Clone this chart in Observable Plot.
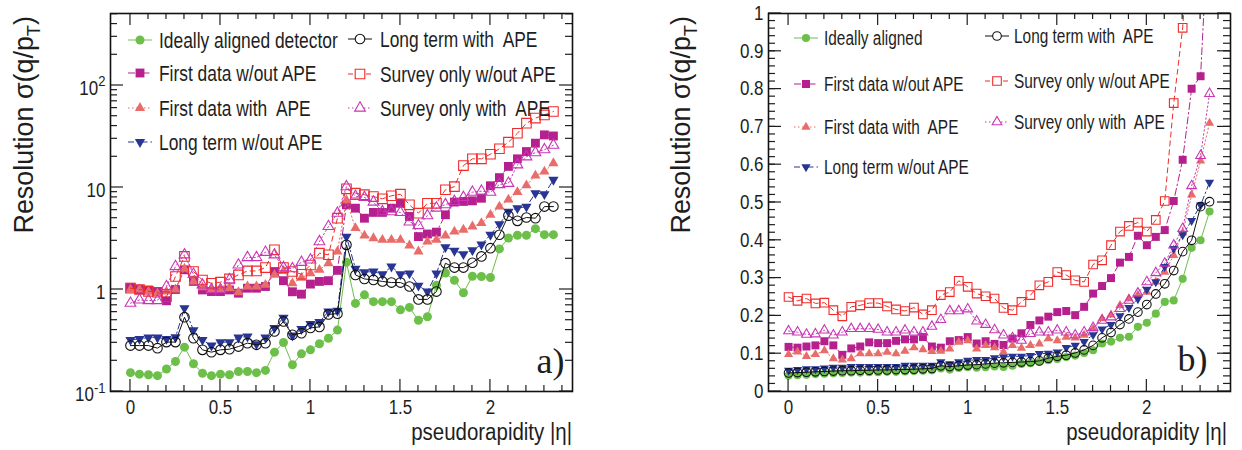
<!DOCTYPE html>
<html><head><meta charset="utf-8">
<script src="https://cdn.jsdelivr.net/npm/d3@7"></script>
<script src="https://cdn.jsdelivr.net/npm/@observablehq/plot@0.6"></script>
<style>
html,body{margin:0;padding:0;background:#fff;}
#wrap{position:relative;width:1242px;height:450px;overflow:hidden;background:#fff;}
#wrap svg{position:absolute;top:0;}
</style></head><body><div id="wrap"></div>
<script>
// ---------- data ----------
const eta = [0,0.05,0.1,0.15,0.2,0.25,0.3,0.35,0.4,0.45,0.5,0.55,0.6,0.65,0.7,0.75,0.8,0.85,0.9,0.95,1,1.05,1.1,1.15,1.2,1.25,1.3,1.35,1.4,1.45,1.5,1.55,1.6,1.65,1.7,1.75,1.8,1.85,1.9,1.95,2,2.05,2.1,2.15,2.2,2.25,2.3,2.35];

// panel a) (log scale)
const aIdeal    = [0.153,0.148,0.146,0.143,0.166,0.197,0.272,0.187,0.151,0.143,0.148,0.146,0.157,0.157,0.153,0.161,0.243,0.302,0.183,0.234,0.256,0.294,0.333,0.40, 1.85,0.73,0.887,0.76,0.76,0.76,0.632,0.667,0.5,0.54,1.1,1.45,1.23,0.93,1.35,1.34,1.31,2.5,3.2,3.4,3.4,3.95,3.45,3.45];
const aFirstNo  = [1.05,1.0,0.99,0.955,0.775,1.0,1.56,1.2,0.99,0.955,0.955,0.99,0.92,1.03,1.03,1.07,1.5,1.22,0.95,0.9,1.13,1.2,1.22,1.54, 6.76,6.27,5.0,5.7,5.7,6.27,7.0,5.2,3.3,3.5,3.65,5.4,7.2,7.3,7.4,7.85,10.4,12.5,16.1,19.1,22.5,27.2,32.8,32];
const aFirstApe = [1.0,1.0,0.955,0.92,0.955,1.0,1.6,1.2,1.05,1.0,1.0,1.03,0.94,1.07,1.07,1.11,1.39,1.52,1.15,1.3,1.44,1.56,1.81,2.36, 7.5,4.0,3.38,3.18,3.07,3.07,3.07,2.7,2.36,2.95,3.07,3.38,3.7,3.85,4.15,4.47,5.4,6.5,7.6,9.0,10.5,13.1,14.3,17.3];
const aLongNo   = [0.321,0.328,0.338,0.338,0.328,0.34,0.656,0.40,0.321,0.282,0.305,0.305,0.338,0.346,0.291,0.338,0.42,0.53,0.354,0.41,0.46,0.48,0.61,0.62, 3.3,1.6,1.48,1.5,1.41,1.68,1.41,1.44,1.09,0.955,1.44,2.6,2.4,2.22,2.43,2.76,3.44,4.37,5.8,6.27,6.5,8.8,8.6,11.9];
const aLongApe  = [0.282,0.282,0.282,0.266,0.305,0.305,0.535,0.333,0.256,0.243,0.256,0.26,0.276,0.298,0.287,0.298,0.388,0.486,0.36,0.373,0.42,0.43,0.57,0.58, 2.74,1.39,1.27,1.24,1.2,1.17,1.17,1.07,0.80,0.80,0.955,1.81,1.64,1.64,1.83,2.11,2.54,3.44,5.3,4.71,5.08,5.0,6.5,6.5];
const aSurveyNo = [1.03,1.0,0.96,0.94,0.85,1.34,2.11,1.5,1.24,1.15,1.18,1.27,1.39,1.52,1.52,1.64,2.45,1.64,1.5,1.41,1.74,2.27,2.19,5.0, 9.7,8.8,8.5,8.15,7.75,8.3,8.6,6.76,5.6,7.0,7.0,9.5,10.2,16.4,19.1,19.1,21.2,24,27.8,34,42.7,47.9,51.5,55.6];
const aSurveyApe= [0.734,0.79,0.78,0.78,1.07,1.68,2.19,1.41,1.11,1.0,1.0,1.25,1.74,2.06,2.06,2.32,2.19,1.64,1.6,1.85,1.95,2.95,4.15,5.6, 10.2,8.2,8.0,7.2,5.8,5.8,5.7,4.6,4.24,5.3,6.3,6.8,7.3,8.0,9.0,9.2,9.0,10.7,11,16.7,20,22,23.5,26];

// panel b) (linear scale)
const bIdeal    = [0.042,0.043,0.044,0.046,0.047,0.048,0.049,0.05,0.05,0.051,0.051,0.052,0.052,0.053,0.054,0.055,0.056,0.061,0.058,0.062,0.064,0.063,0.064,0.066, 0.065,0.068,0.073,0.075,0.078,0.083,0.086,0.091,0.095,0.102,0.109,0.127,0.132,0.142,0.145,0.171,0.182,0.206,0.237,0.241,0.298,0.38,0.40,0.476];
const bFirstNo  = [0.118,0.116,0.119,0.122,0.133,0.122,0.097,0.114,0.119,0.13,0.128,0.128,0.134,0.138,0.138,0.144,0.119,0.116,0.133,0.136,0.144,0.127,0.133,0.126, 0.123,0.14,0.154,0.176,0.188,0.198,0.21,0.213,0.202,0.224,0.259,0.279,0.3,0.341,0.356,0.412,0.387,0.409,0.427,0.504,0.613,0.801,0.834,1.3];
const bFirstApe = [0.098,0.105,0.093,0.098,0.108,0.087,0.084,0.087,0.1,0.1,0.1,0.104,0.1,0.107,0.116,0.111,0.106,0.107,0.113,0.131,0.135,0.113,0.122,0.116, 0.104,0.122,0.115,0.122,0.126,0.14,0.135,0.144,0.142,0.149,0.166,0.193,0.203,0.228,0.246,0.255,0.263,0.29,0.316,0.36,0.42,0.52,0.61,0.71];
const bLongNo   = [0.056,0.058,0.06,0.06,0.062,0.064,0.064,0.066,0.066,0.066,0.066,0.066,0.066,0.069,0.069,0.069,0.069,0.078,0.073,0.078,0.082,0.084,0.084,0.089, 0.091,0.093,0.093,0.095,0.1,0.101,0.104,0.116,0.122,0.132,0.15,0.165,0.177,0.2,0.222,0.245,0.27,0.29,0.33,0.378,0.414,0.452,0.493,0.553];
const bLongApe  = [0.049,0.05,0.051,0.052,0.053,0.054,0.055,0.055,0.056,0.056,0.057,0.057,0.058,0.058,0.059,0.06,0.061,0.068,0.066,0.068,0.07,0.071,0.073,0.075, 0.076,0.077,0.078,0.079,0.081,0.088,0.093,0.096,0.102,0.11,0.122,0.142,0.156,0.177,0.192,0.21,0.23,0.258,0.285,0.32,0.37,0.40,0.489,0.502];
const bSurveyNo = [0.25,0.24,0.246,0.233,0.235,0.215,0.199,0.224,0.228,0.234,0.234,0.225,0.217,0.213,0.222,0.204,0.215,0.255,0.263,0.293,0.277,0.259,0.252,0.246, 0.221,0.215,0.237,0.255,0.281,0.29,0.316,0.308,0.294,0.29,0.336,0.347,0.387,0.423,0.438,0.447,0.423,0.454,0.504,0.763,0.962,1.3,1.6,1.9];
const bSurveyApe= [0.16,0.157,0.151,0.152,0.162,0.149,0.157,0.166,0.166,0.166,0.164,0.157,0.157,0.162,0.157,0.157,0.172,0.19,0.213,0.213,0.218,0.186,0.177,0.163, 0.149,0.142,0.135,0.153,0.157,0.157,0.162,0.157,0.149,0.157,0.169,0.188,0.197,0.219,0.241,0.26,0.29,0.314,0.339,0.387,0.431,0.544,0.624,0.788];

const aLabels = ["Ideally aligned detector","First data w/out APE","First data with\u00a0 APE","Long term w/out APE","Long term with\u00a0 APE","Survey only w/out APE","Survey only with\u00a0 APE"];
const bLabels = ["Ideally aligned","First data w/out APE","First data with\u00a0 APE","Long term w/out APE","Long term with\u00a0 APE","Survey only w/out APE","Survey only with\u00a0 APE"];

const xMajor = [0,0.5,1,1.5,2];
const xMinor = [0.1,0.2,0.3,0.4,0.6,0.7,0.8,0.9,1.1,1.2,1.3,1.4,1.6,1.7,1.8,1.9,2.1,2.2,2.3,2.4];
const xTickText = ["0","0.5","1","1.5","2"];
const aYMajor = [0.1,1,10,100];
const aYMinor = [0.2,0.3,0.4,0.5,0.6,0.7,0.8,0.9,2,3,4,5,6,7,8,9,20,30,40,50,60,70,80,90,200,300,400,500];
const aYTickBase = ["10","1","10","10"];
const aYTickExp  = ["-1","","","2"];
const bYMajor = [0,0.1,0.2,0.3,0.4,0.5,0.6,0.7,0.8,0.9,1];
const bYMinor = d3.range(1, 50).map(d => d / 50);
const bYTickBase = ["0","0.1","0.2","0.3","0.4","0.5","0.6","0.7","0.8","0.9","1"];
const bYTickExp  = ["","","","","","","","","","",""];
const yTitleText = "Resolution σ(q/p";
const xTitleText = "pseudorapidity |η|";

// ---------- styles ----------
const FONT = "'Liberation Sans', Arial, Helvetica, sans-serif";
const INK = "#1e1e1e";
const SEP = "\u2009^";
const triDown = {
  draw(ctx, size) {
    const y = -Math.sqrt(size / (Math.sqrt(3) * 3));
    ctx.moveTo(0, -y * 2);
    ctx.lineTo(-Math.sqrt(3) * y, y);
    ctx.lineTo(Math.sqrt(3) * y, y);
    ctx.closePath();
  }
};
const styles = [
  {color:"#6cc04a", symbol:"circle",   d3sym:d3.symbolCircle,   filled:true,  dash:null,          r:4.5},
  {color:"#b5208e", symbol:"square",   d3sym:d3.symbolSquare,   filled:true,  dash:"7,3,1.5,3",   r:5.0},
  {color:"#e86d6a", symbol:"triangle", d3sym:d3.symbolTriangle, filled:true,  dash:"1.5,2.5",     r:3.8},
  {color:"#283593", symbol:triDown,    d3sym:triDown,           filled:true,  dash:"6,3,1.5,3",   r:3.8},
  {color:"#111111", symbol:"circle",   d3sym:d3.symbolCircle,   filled:false, dash:null,          r:4.8},
  {color:"#ef2b2b", symbol:"square",   d3sym:d3.symbolSquare,   filled:false, dash:"5,4",         r:5.4},
  {color:"#c836b4", symbol:"triangle", d3sym:d3.symbolTriangle, filled:false, dash:"1.5,2.5",     r:4.0},
];

function rows(vals) { return eta.map((e, i) => ({eta: e, v: vals[i]})); }

function legendMark(labels, layout, fontSize, scale) {
  return (index, scales, values, dims) => {
    const g = d3.create("svg:g").attr("class", "legend");
    labels.forEach((lab, i) => {
      const s = styles[i], L = layout[i];
      const cx = dims.marginLeft + L.mx, cy = dims.marginTop + L.y;
      g.append("line").attr("x1", cx - 12).attr("x2", cx + 12).attr("y1", cy).attr("y2", cy)
        .attr("stroke", s.color).attr("stroke-width", 1).attr("stroke-dasharray", s.dash);
      const r = s.r * scale;
      if (s.symbol === "circle") {
        g.append("circle").attr("cx", cx).attr("cy", cy).attr("r", r)
          .attr("fill", s.filled ? s.color : "white").attr("stroke", s.color).attr("stroke-width", s.filled ? 0 : 1.1);
      } else {
        g.append("path").attr("transform", `translate(${cx},${cy})`)
          .attr("d", d3.symbol(s.d3sym, Math.PI * r * r)())
          .attr("fill", s.filled ? s.color : "white").attr("stroke", s.filled ? "none" : s.color).attr("stroke-width", 1.1);
      }
      g.append("text").attr("x", dims.marginLeft + L.tx).attr("y", cy).attr("dy", "0.36em")
        .attr("text-anchor", "start")
        .attr("font-size", fontSize).attr("fill", INK).attr("font-family", FONT).text(lab);
    });
    return g.node();
  };
}

function yTitleMark(dx, dy, size) {
  return (index, scales, values, dims) => {
    const g = d3.create("svg:g").attr("class", "ytitle");
    const t = g.append("text")
      .attr("transform", `translate(${dims.marginLeft + dx},${dims.marginTop + dy}) rotate(-90)`)
      .attr("text-anchor", "end").attr("font-size", size).attr("fill", INK).attr("font-family", FONT);
    t.append("tspan").text(yTitleText);
    t.append("tspan").attr("font-size", size * 0.68).attr("dy", size * 0.24).text("T");
    t.append("tspan").attr("dy", -size * 0.24).text(")");
    return g.node();
  };
}

function xTitleMark(dx, dy, size) {
  return (index, scales, values, dims) => {
    const g = d3.create("svg:g").attr("class", "xtitle");
    g.append("text")
      .attr("x", dims.width - dims.marginRight + dx).attr("y", dims.height - dims.marginBottom + dy)
      .attr("text-anchor", "end").attr("font-size", size).attr("fill", INK).attr("font-family", FONT)
      .text(xTitleText);
    return g.node();
  };
}

// inward ticks on all four sides of the frame, positioned through Plot's scales
function frameTicks(yMajor, yMinor) {
  return (index, scales, values, dims) => {
    const g = d3.create("svg:g").attr("class", "frame-ticks").attr("stroke", INK).attr("stroke-width", 1.2).attr("fill", "none");
    const L = dims.marginLeft, R = dims.width - dims.marginRight, T = dims.marginTop, B = dims.height - dims.marginBottom;
    const X = scales.x, Y = scales.y;
    for (const [vals, len] of [[xMinor, 6], [xMajor, 12]]) {
      for (const v of vals) {
        const px = X(v);
        g.append("line").attr("x1", px).attr("x2", px).attr("y1", B).attr("y2", B - len);
        g.append("line").attr("x1", px).attr("x2", px).attr("y1", T).attr("y2", T + len);
      }
    }
    for (const [vals, len] of [[yMinor, 7], [yMajor, 13]]) {
      for (const v of vals) {
        const py = Y(v);
        if (py < T - 0.5 || py > B + 0.5) continue;
        g.append("line").attr("x1", L).attr("x2", L + len).attr("y1", py).attr("y2", py);
        g.append("line").attr("x1", R).attr("x2", R - len).attr("y1", py).attr("y2", py);
      }
    }
    return g.node();
  };
}

function panel(cfg) {
  const W = 621, H = 450, mt = 13, mb = 59;
  const ms = cfg.markScale;
  const marks = [];
  cfg.series.forEach((vals, i) => {
    const s = styles[i];
    const data = rows(vals);
    marks.push(Plot.line(data, {x: "eta", y: "v", stroke: s.color, strokeWidth: 1, strokeDasharray: s.dash, clip: true}));
    marks.push(Plot.dot(data, {x: "eta", y: "v", symbol: s.symbol, r: s.r * ms,
      fill: s.filled ? s.color : "none", stroke: s.filled ? "none" : s.color, strokeWidth: 1.1, clip: true}));
  });
  marks.push(
    frameTicks(cfg.yMajor, cfg.yMinor),
    Plot.frame({stroke: "#111", strokeWidth: 1.6}),
    Plot.axisX(xMajor, {anchor: "bottom", tickSize: 0, tickPadding: 9, fontSize: 19.5, label: null,
      tickFormat: d => xTickText[xMajor.indexOf(d)], fill: INK}),
    Plot.axisY(cfg.yMajor, {anchor: "left", tickSize: 0, tickPadding: cfg.yPad, fontSize: 19.5, label: null, dy: cfg.yDy,
      tickFormat: d => { const i = cfg.yMajor.indexOf(d); return cfg.yTickBase[i] + (cfg.yTickExp[i] ? SEP + cfg.yTickExp[i] : ""); }, fill: INK}),
    Plot.text([cfg.tag], {text: d => d, frameAnchor: "bottom-right", textAnchor: "end", lineAnchor: "bottom",
      dx: cfg.tagDx, dy: cfg.tagDy, fontSize: 36, fill: INK, fontFamily: "'Liberation Serif','Times New Roman',serif"}),
    xTitleMark(cfg.xTitleDx, 49, 23),
    yTitleMark(cfg.yTitleDx, 3, 28),
    legendMark(cfg.labels, cfg.legendLayout, cfg.legendFont, ms)
  );
  return Plot.plot({
    width: W, height: H,
    marginLeft: cfg.marginLeft, marginRight: cfg.marginRight, marginTop: mt, marginBottom: mb,
    x: {domain: cfg.xDomain},
    y: cfg.y,
    style: {fontFamily: FONT, color: INK, background: "transparent", overflow: "visible"},
    marks
  });
}

const left = panel({
  series: [aIdeal, aFirstNo, aFirstApe, aLongNo, aLongApe, aSurveyNo, aSurveyApe],
  labels: aLabels,
  marginLeft: 110, marginRight: 49,
  xDomain: [-0.111, 2.456],
  y: {type: "log", domain: [0.1, 508]},
  yMajor: aYMajor, yMinor: aYMinor, yTickBase: aYTickBase, yTickExp: aYTickExp, yPad: 5, yDy: 3,
  xTitleDx: 0, tag: "a)", tagDx: -8, tagDy: -19, yTitleDx: -77,
  legendFont: 22, markScale: 1,
  legendLayout: [
    {mx: 30, tx: 49, y: 27}, {mx: 30, tx: 49, y: 60}, {mx: 30, tx: 49, y: 95}, {mx: 30, tx: 49, y: 129},
    {mx: 250, tx: 270, y: 26}, {mx: 250, tx: 270, y: 61}, {mx: 250, tx: 270, y: 95}
  ]
});
const right = panel({
  series: [bIdeal, bFirstNo, bFirstApe, bLongNo, bLongApe, bSurveyNo, bSurveyApe],
  labels: bLabels,
  marginLeft: 147, marginRight: 12,
  xDomain: [-0.112, 2.467],
  y: {type: "linear", domain: [0, 1.0]},
  yMajor: bYMajor, yMinor: bYMinor, yTickBase: bYTickBase, yTickExp: bYTickExp, yPad: 5, yDy: 0,
  xTitleDx: -3, tag: "b)", tagDx: -23, tagDy: -21, yTitleDx: -78,
  legendFont: 19.5, markScale: 0.9,
  legendLayout: [
    {mx: 38, tx: 56, y: 25}, {mx: 38, tx: 56, y: 71}, {mx: 38, tx: 56, y: 114}, {mx: 38, tx: 56, y: 154},
    {mx: 229, tx: 246, y: 23}, {mx: 229, tx: 246, y: 68}, {mx: 229, tx: 246, y: 109}
  ]
});
left.style.left = "0px";
right.style.left = "621px";
const wrap = document.getElementById("wrap");
wrap.appendChild(left);
wrap.appendChild(right);

// turn "10 ^2" style tick labels into real superscripts
for (const svg of [left, right]) {
  svg.querySelectorAll('g[aria-label="y-axis tick label"] text').forEach(t => {
    const s = t.textContent;
    const k = s.indexOf(SEP);
    if (k < 0) return;
    const base = s.slice(0, k), exp = s.slice(k + SEP.length);
    t.textContent = "";
    const ns = "http://www.w3.org/2000/svg";
    const a = document.createElementNS(ns, "tspan"); a.textContent = base; t.appendChild(a);
    const b = document.createElementNS(ns, "tspan"); b.textContent = exp;
    b.setAttribute("font-size", "15"); b.setAttribute("dy", "-0.55em"); t.appendChild(b);
  });
}

// condense text horizontally (ROOT-like narrow Helvetica)
function squeeze(root, selector, f) {
  root.querySelectorAll(selector).forEach(t => {
    const L = t.getComputedTextLength();
    if (L > 0) { t.setAttribute("textLength", (L * f).toFixed(2)); t.setAttribute("lengthAdjust", "spacingAndGlyphs"); }
  });
}
for (const svg of [left, right]) {
  squeeze(svg, 'g[aria-label$="tick label"] text', 0.87);
  squeeze(svg, '.legend text', 0.79);
  squeeze(svg, '.xtitle text', 0.89);
  squeeze(svg, '.ytitle text', 0.96);
}
</script>
</body></html>
